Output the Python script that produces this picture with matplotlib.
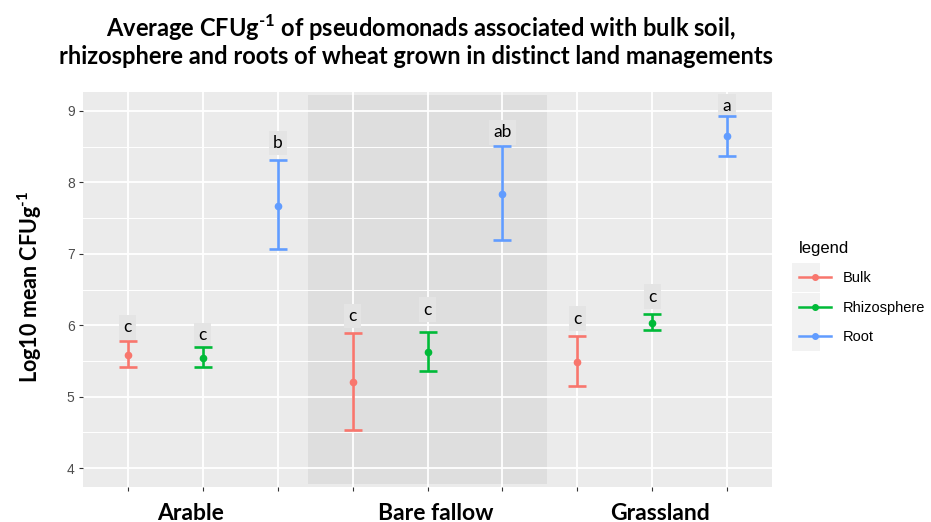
import matplotlib.pyplot as plt
from matplotlib.lines import Line2D
from matplotlib.patches import Rectangle

plt.rcParams['mathtext.fontset'] = 'custom'
plt.rcParams['mathtext.rm'] = 'Lato:bold'
plt.rcParams['mathtext.bf'] = 'Lato:bold'

managements = ['Arable', 'Bare fallow', 'Grassland']
fractions = ['Bulk', 'Rhizosphere', 'Root']
colors = ['#F8766D', '#00BA38', '#619CFF']

# log10 CFU per gram, one list per fraction (Arable, Bare fallow, Grassland)
means = {'Bulk': [5.59, 5.21, 5.48],
         'Rhizosphere': [5.54, 5.62, 6.03],
         'Root': [7.67, 7.84, 8.65]}
upper = {'Bulk': [5.78, 5.89, 5.85],
         'Rhizosphere': [5.69, 5.91, 6.16],
         'Root': [8.32, 8.51, 8.93]}
lower = {'Bulk': [5.41, 4.54, 5.15],
         'Rhizosphere': [5.41, 5.36, 5.93],
         'Root': [7.07, 7.20, 8.37]}
letters = {'Bulk': ['c', 'c', 'c'],
           'Rhizosphere': ['c', 'c', 'c'],
           'Root': ['b', 'ab', 'a']}
letter_y = {'Bulk': [5.97, 6.13, 6.09],
            'Rhizosphere': [5.86, 6.22, 6.40],
            'Root': [8.55, 8.70, 9.07]}

fig = plt.figure(figsize=(9.31, 5.22), dpi=100)
ax = fig.add_axes([83/931, 1-487/522, 689/931, 395/522])
ax.set_facecolor('#EBEBEB')

ax.set_xlim(0.4, 9.6)
ax.set_ylim(3.735, 9.265)

# highlight the bare fallow group
ax.add_patch(Rectangle((3.4, 3.78), 3.2, 5.44, facecolor='#DEDEDE', edgecolor='none', zorder=0.5))

for v in [4.5, 5.5, 6.5, 7.5, 8.5]:
    ax.axhline(v, color='white', lw=0.7, zorder=1)
for v in range(4, 10):
    ax.axhline(v, color='white', lw=1.3, zorder=1)
for x in range(1, 10):
    ax.axvline(x, color='white', lw=1.3, zorder=1)

for j, frac in enumerate(fractions):
    xs = [i*3 + j + 1 for i in range(3)]
    m = means[frac]
    err = [[m[i] - lower[frac][i] for i in range(3)],
           [upper[frac][i] - m[i] for i in range(3)]]
    ax.errorbar(xs, m, yerr=err, fmt='o', color=colors[j], ms=4.5,
                elinewidth=1.9, capsize=6.5, capthick=1.9, zorder=3)
    for i in range(3):
        ax.text(xs[i], letter_y[frac][i], letters[frac][i], ha='center', va='center',
                fontsize=12.5, family='Lato', color='black', zorder=2.5,
                bbox=dict(boxstyle='square,pad=0.25', facecolor='#E4E4E4', edgecolor='none'))

for s in ax.spines.values():
    s.set_visible(False)
ax.set_xticks(range(1, 10))
ax.set_xticklabels([''] * 9)
ax.set_yticks(range(4, 10))
ax.tick_params(axis='both', color='#333333', length=3, width=0.8)
ax.tick_params(axis='y', labelsize=10, labelcolor='#4D4D4D', pad=3)
for lab in ax.get_yticklabels():
    lab.set_family('Liberation Sans')

# group names under the ticks
for name, xpx in zip(managements, [191, 436, 660]):
    fig.text(xpx/931, 1-513/522, name, ha='center', va='center',
             fontsize=16.5, family='Lato', fontweight='bold')

fig.text(30/931, 1-287/522, r'Log10 mean CFUg$^{\text{-1}}$', rotation=90, ha='center', va='center',
         fontsize=15.5, family='Lato', fontweight='bold')

fig.text(421/931, 1-28/522, r'Average CFUg$^{\text{-1}}$ of pseudomonads associated with bulk soil,',
         ha='center', va='center', fontsize=17, family='Lato', fontweight='bold')
fig.text(416/931, 1-57/522, 'rhizosphere and roots of wheat grown in distinct land managements',
         ha='center', va='center', fontsize=17, family='Lato', fontweight='bold')

# legend
handles = [Line2D([0], [0], color=c, marker='o', ms=4, lw=1.8) for c in colors]
for k in range(3):
    fig.patches.append(Rectangle((792/931, 1-(292 + 29.5*k)/522), 28/931, 29/522,
                                 transform=fig.transFigure, facecolor='#F2F2F2',
                                 edgecolor='none', zorder=0))
leg = fig.legend(handles, fractions, title='legend', loc='upper left',
                 bbox_to_anchor=(786/931, 1-228/522), frameon=False,
                 prop={'family': 'Liberation Sans', 'size': 10.5},
                 handlelength=2.2, labelspacing=1.05, handletextpad=0.8)
leg.get_title().set_family('Liberation Sans')
leg.get_title().set_fontsize(12)
leg._legend_box.align = 'left'

fig.savefig('out.png', dpi=100)
